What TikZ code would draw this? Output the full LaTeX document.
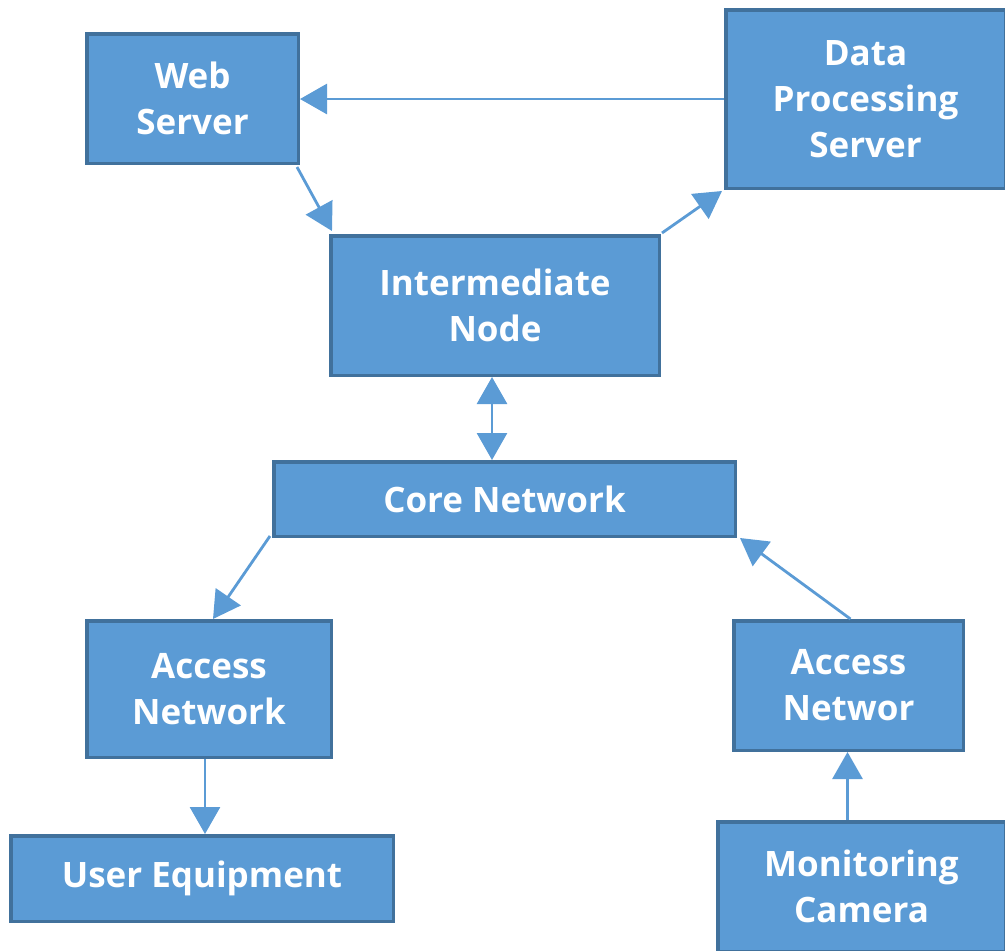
\documentclass[tikz,border=0pt]{standalone}
\usepackage{fontspec}
\setmainfont{Open Sans}
\usetikzlibrary{arrows.meta}
\definecolor{boxfill}{HTML}{5B9BD5}
\definecolor{boxline}{HTML}{41719C}
\definecolor{arrowcol}{HTML}{5B9BD5}
\tikzset{
  box/.style={draw=boxline, fill=boxfill, line width=3.5pt, rectangle, align=center,
    text=white, font=\fontsize{35}{46}\selectfont\bfseries, inner sep=0pt},
  conn/.style={draw=arrowcol, line width=2.8pt, -{Triangle[length=27pt,width=30pt]}},
  conn2/.style={draw=arrowcol, line width=2.8pt, {Triangle[length=27pt,width=30pt]}-{Triangle[length=27pt,width=30pt]}}
}
\begin{document}
\begin{tikzpicture}[x=1pt,y=-1pt]
\useasboundingbox (0,0) rectangle (1005,951);
\node[box, minimum width=211.5pt, minimum height=129.5pt] (web) at (192.5,98.5) {Web\\Server};
\node[box, minimum width=279.5pt, minimum height=178.5pt] (data) at (865.5,99) {Data\\Processing\\Server};
\node[box, minimum width=328.5pt, minimum height=139.5pt] (inter) at (495,305.5) {Intermediate\\Node};
\node[box, minimum width=461.5pt, minimum height=74.5pt] (core) at (504.5,499) {Core Network};
\node[box, minimum width=244.5pt, minimum height=136.5pt] (accl) at (209,689) {Access\\Network};
\node[box, minimum width=229.5pt, minimum height=129.5pt] (accr) at (848.5,685.5) {Access\\Networ};
\node[box, minimum width=382.5pt, minimum height=85.5pt] (ue) at (202,878.5) {User Equipment};
\node[box, minimum width=287.5pt, minimum height=129.5pt] (mon) at (861.5,886.5) {Monitoring\\Camera};

\draw[conn] (data.west) -- (data.west -| web.east);
\draw[conn] ([xshift=-3pt,yshift=-2pt]web.south east) -- ([xshift=3pt,yshift=3pt]inter.north west);
\draw[conn] ([xshift=1pt,yshift=1pt]inter.north east) -- ([xshift=-2pt,yshift=-1pt]data.south west);
\draw[conn2] ([xshift=-3pt]inter.south) -- ([xshift=-3pt]inter.south |- core.north);
\draw[conn] ([xshift=-2pt,yshift=2pt]core.south west) -- ([xshift=4pt]accl.north);
\draw[conn] ([xshift=2pt]accr.north) -- ([xshift=3pt]core.south east);
\draw[conn] ([xshift=-4pt]accl.south) -- ([xshift=-4pt]accl.south |- ue.north);
\draw[conn] ([xshift=-1pt]accr.south |- mon.north) -- ([xshift=-1pt]accr.south);
\end{tikzpicture}
\end{document}
